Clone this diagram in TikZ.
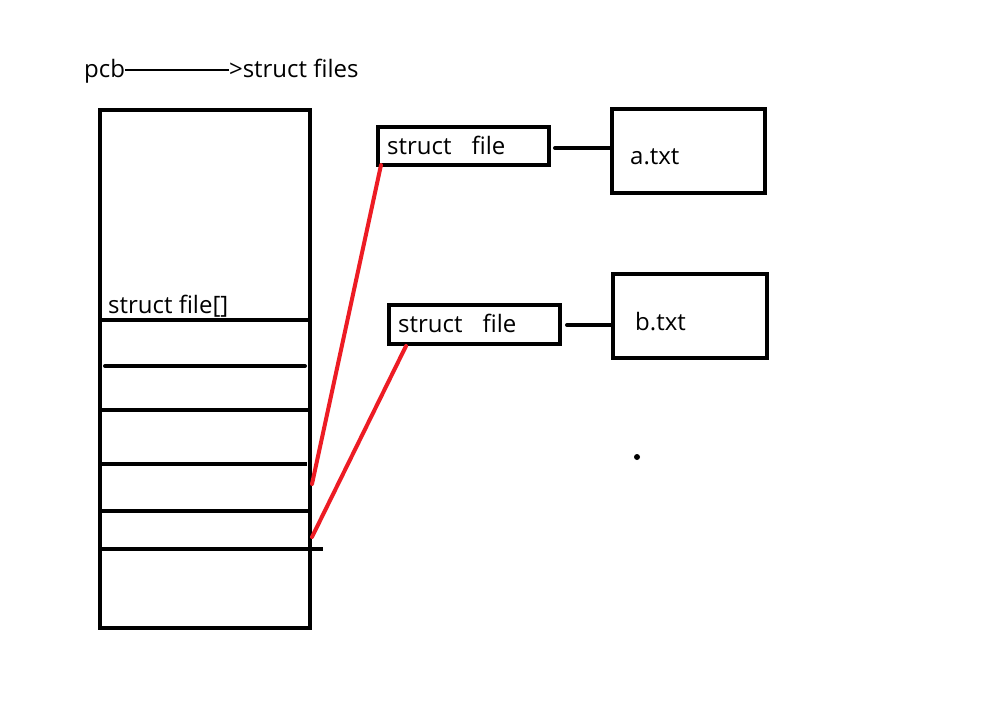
\documentclass[tikz,border=0pt]{standalone}
\usepackage{fontspec}
\setmainfont{Open Sans}
\definecolor{paintred}{RGB}{237,28,36}
\begin{document}
\begin{tikzpicture}[x=1pt,y=-1pt,
  box/.style={draw=black,line width=4pt,inner sep=0pt},
  lbl/.style={anchor=base west,inner sep=0pt,font=\fontsize{24}{28}\selectfont},
  slot/.style={line width=4pt},
  link/.style={line width=4pt,line cap=round},
  ptr/.style={draw=paintred,line width=4pt,line cap=round}]
\useasboundingbox (0,0) rectangle (992,713);
\fill[white] (0,0) rectangle (992,713);
% title
\node[lbl] (title) at (84,77) {pcb\raisebox{6.5pt}{\rule{104pt}{1.5pt}}>struct files};
% big array box
\node[box,minimum width=210pt,minimum height=518pt] (arr) at (205,369) {};
\node[lbl] (arrlbl) at (108,313) {struct file[]};
\coordinate (s1l) at (100,320); \coordinate (s1r) at (310,320);
\coordinate (s2l) at (105,366); \coordinate (s2r) at (305,366);
\coordinate (s3l) at (100,410); \coordinate (s3r) at (310,410);
\coordinate (s4l) at (100,464); \coordinate (s4r) at (307,464);
\coordinate (s5l) at (100,511); \coordinate (s5r) at (310,511);
\coordinate (s6l) at (100,549); \coordinate (s6r) at (323,549);
\draw[slot] (s1l) -- (s1r);
\draw[link] (s2l) -- (s2r);
\draw[slot] (s3l) -- (s3r);
\draw[slot] (s4l) -- (s4r);
\draw[slot] (s5l) -- (s5r);
\draw[slot] (s6l) -- (s6r);
% struct file boxes
\node[box,minimum width=171pt,minimum height=38pt] (f1) at (463.5,146) {};
\node[lbl] (f1t) at (387,154) {struct\hspace{20pt}file};
\node[box,minimum width=171pt,minimum height=39pt] (f2) at (474.5,324.5) {};
\node[lbl] (f2t) at (398,332) {struct\hspace{20pt}file};
% file boxes
\node[box,minimum width=153pt,minimum height=84pt] (a) at (688.5,151) {};
\node[lbl] (at) at (630,164) {a.txt};
\node[box,minimum width=154pt,minimum height=84pt] (b) at (690,316) {};
\node[lbl] (bt) at (635,330) {b.txt};
% links
\coordinate (l1) at (555,148);
\draw[link] (l1) -- (a.west |- l1);
\coordinate (l2) at (567,325);
\draw[link] (l2) -- (b.west |- l2);
% pointers
\coordinate (p1) at (312,484); \coordinate (q1) at (381,165);
\coordinate (p2) at (312,537); \coordinate (q2) at (406,346);
\draw[ptr] (p1) -- (q1);
\draw[ptr] (p2) -- (q2);
% dot
\fill (637,457) circle (3pt);
\end{tikzpicture}
\end{document}
